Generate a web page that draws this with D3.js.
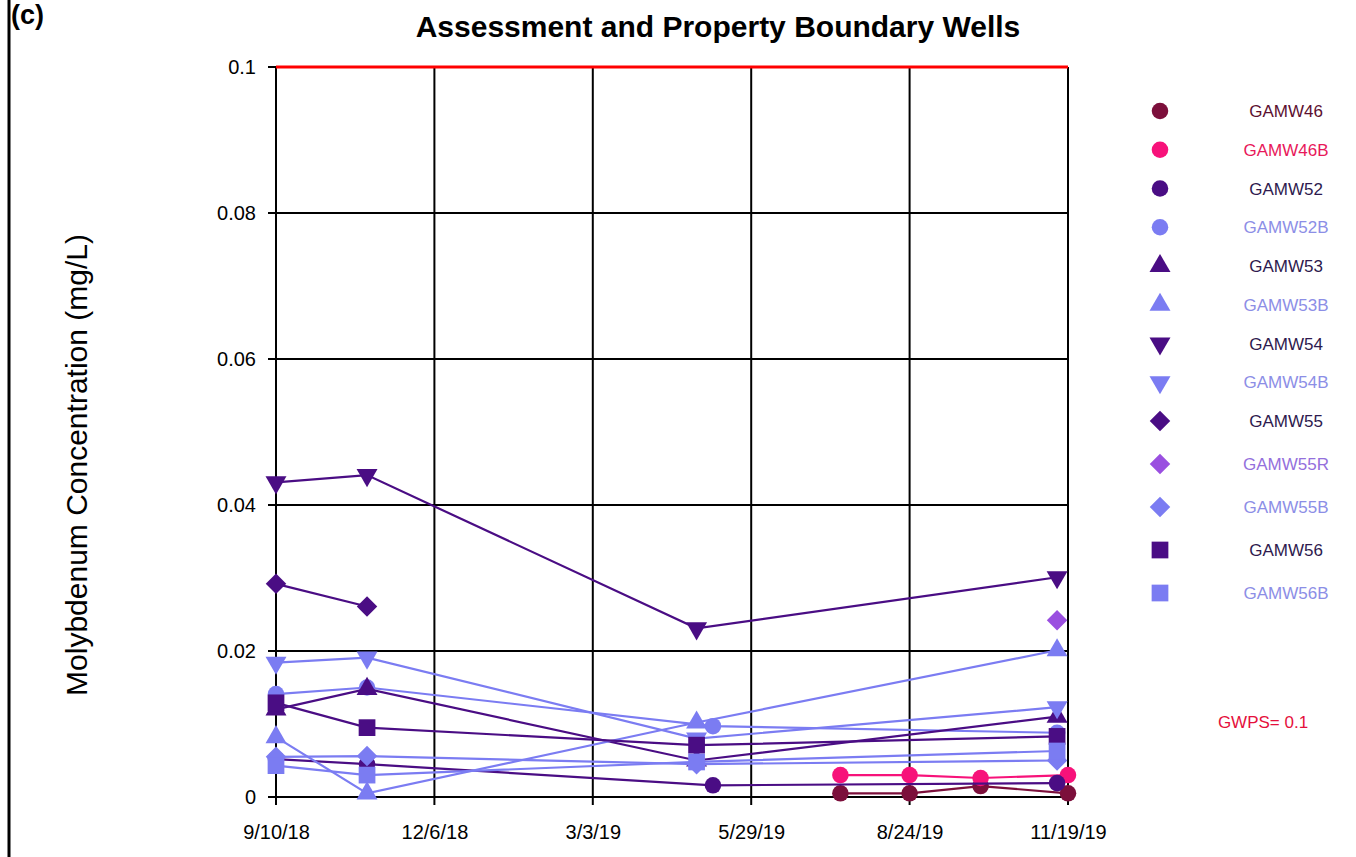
<!DOCTYPE html>
<html>
<head>
<meta charset="utf-8">
<script src="https://cdn.jsdelivr.net/npm/d3@7"></script>
<style>
  html, body { margin: 0; padding: 0; background: #fff; }
  svg { display: block; font-family: "Liberation Sans", Arial, sans-serif; }
</style>
</head>
<body>
<svg id="chart" width="1356" height="857"></svg>
<script>
// Sampling results, molybdenum (mg/L), per monitoring well
const wellNames = ["GAMW46", "GAMW46B", "GAMW52", "GAMW52B", "GAMW53", "GAMW53B",
  "GAMW54", "GAMW54B", "GAMW55", "GAMW55R", "GAMW55B", "GAMW56", "GAMW56B"];

const gamw46   = [["7/17/19", 0.0005], ["8/24/19", 0.0005], ["10/2/19", 0.0015], ["11/19/19", 0.0005]];
const gamw46b  = [["7/17/19", 0.003], ["8/24/19", 0.003], ["10/2/19", 0.0026], ["11/19/19", 0.003]];
const gamw52   = [["9/10/18", 0.0052], ["10/30/18", 0.0045], ["5/8/19", 0.0016], ["11/13/19", 0.0019]];
const gamw52b  = [["9/10/18", 0.0141], ["10/30/18", 0.015], ["5/8/19", 0.0097], ["11/13/19", 0.0088]];
const gamw53   = [["9/10/18", 0.012], ["10/30/18", 0.0148], ["4/29/19", 0.005], ["11/13/19", 0.011]];
const gamw53b  = [["9/10/18", 0.0082], ["10/30/18", 0.0005], ["4/29/19", 0.0102], ["11/13/19", 0.0201]];
const gamw54   = [["9/10/18", 0.0431], ["10/30/18", 0.0441], ["4/29/19", 0.0231], ["11/13/19", 0.0301]];
const gamw54b  = [["9/10/18", 0.0184], ["10/30/18", 0.0191], ["4/29/19", 0.008], ["11/13/19", 0.0123]];
const gamw55   = [["9/10/18", 0.0292], ["10/30/18", 0.0261]];
const gamw55r  = [["11/13/19", 0.0242]];
const gamw55b  = [["9/10/18", 0.0055], ["10/30/18", 0.0056], ["4/29/19", 0.0045], ["11/13/19", 0.005]];
const gamw56   = [["9/10/18", 0.0129], ["10/30/18", 0.0095], ["4/29/19", 0.0071], ["11/13/19", 0.0083]];
const gamw56b  = [["9/10/18", 0.0043], ["10/30/18", 0.003], ["4/29/19", 0.0048], ["11/13/19", 0.0063]];

const wellValues = [gamw46, gamw46b, gamw52, gamw52b, gamw53, gamw53b,
  gamw54, gamw54b, gamw55, gamw55r, gamw55b, gamw56, gamw56b];

const xTickLabels = ["9/10/18", "12/6/18", "3/3/19", "5/29/19", "8/24/19", "11/19/19"];
const yTickValues = [0, 0.02, 0.04, 0.06, 0.08, 0.1];
const yTickLabels = ["0", "0.02", "0.04", "0.06", "0.08", "0.1"];
const gwps = 0.1;

// Styling per well
const dark = "#4a0d84", light = "#7b7cf2";
const markerColors = ["#7c0f3b", "#f7127a", dark, light, dark, light, dark, light, dark, "#9a4fe0", light, dark, light];
const labelColors  = ["#5c1030", "#e8185a", "#2e1a4e", "#8c8ee6", "#2e1a4e", "#8c8ee6", "#2e1a4e", "#8c8ee6", "#2e1a4e", "#9470dc", "#8c8ee6", "#2e1a4e", "#8c8ee6"];
const shapes = ["circle", "circle", "circle", "circle", "up", "up", "down", "down", "diamond", "diamond", "diamond", "square", "square"];

const parse = d3.timeParse("%m/%d/%y");
const fmt = d3.timeFormat("%-m/%-d/%y");

const svg = d3.select("#chart");
const plot = { left: 276, right: 1068, top: 67, bottom: 797 };

const x = d3.scaleTime()
  .domain([parse(xTickLabels[0]), parse(xTickLabels[xTickLabels.length - 1])])
  .range([plot.left, plot.right]);
const y = d3.scaleLinear().domain([0, 0.1]).range([plot.bottom, plot.top]);

// Left page rule and panel tag
svg.append("line").attr("x1", 9).attr("x2", 9).attr("y1", 0).attr("y2", 857)
  .attr("stroke", "#000").attr("stroke-width", 3);
svg.append("text").attr("x", 11).attr("y", 24).attr("font-size", 27).attr("font-weight", "bold").text("(c)");

// Title
svg.append("text").attr("x", 718).attr("y", 37).attr("text-anchor", "middle")
  .attr("font-size", 30).attr("font-weight", "bold").text("Assessment and Property Boundary Wells");

// Y axis label
svg.append("text").attr("transform", "translate(87,465) rotate(-90)").attr("text-anchor", "middle")
  .attr("font-size", 30).text("Molybdenum Concentration (mg/L)");

// Grid lines
const xTicks = xTickLabels.map(parse);
svg.append("g").selectAll("line").data(xTicks).join("line")
  .attr("x1", d => x(d)).attr("x2", d => x(d))
  .attr("y1", plot.top).attr("y2", plot.bottom + 8)
  .attr("stroke", "#000").attr("stroke-width", 2);
svg.append("g").selectAll("line").data(yTickValues).join("line")
  .attr("x1", plot.left - 8).attr("x2", plot.right)
  .attr("y1", d => y(d)).attr("y2", d => y(d))
  .attr("stroke", "#000").attr("stroke-width", 2);

// Tick labels through d3 axes (axis lines replaced by the grid above)
const xAxis = svg.append("g").attr("transform", `translate(0,${plot.bottom})`)
  .call(d3.axisBottom(x).tickValues(xTicks).tickFormat(fmt).tickSize(0).tickPadding(28));
const yAxis = svg.append("g").attr("transform", `translate(${plot.left},0)`)
  .call(d3.axisLeft(y).tickValues(yTickValues).tickFormat((d, i) => yTickLabels[i]).tickSize(0).tickPadding(20));
[xAxis, yAxis].forEach(a => {
  a.select(".domain").remove();
  a.selectAll("text").attr("font-size", 20).attr("fill", "#000")
    .attr("font-family", "'Liberation Sans', Arial, sans-serif");
});

// GWPS line
svg.append("line").attr("x1", plot.left).attr("x2", plot.right)
  .attr("y1", y(gwps)).attr("y2", y(gwps)).attr("stroke", "#ff0000").attr("stroke-width", 3);

// Marker paths
function symbolPath(shape) {
  if (shape === "circle") return d3.symbol(d3.symbolCircle, 215)();
  if (shape === "up") return d3.symbol(d3.symbolTriangle, 190)();
  if (shape === "down") return d3.symbol(d3.symbolTriangle, 190)();
  if (shape === "diamond") return d3.symbol(d3.symbolSquare, 210)();
  return d3.symbol(d3.symbolSquare, 280)();
}
function symbolRotate(shape) {
  if (shape === "down") return 180;
  if (shape === "diamond") return 45;
  return 0;
}

const line = d3.line().x(d => x(parse(d[0]))).y(d => y(d[1]));

const seriesG = svg.append("g");
wellValues.forEach((vals, i) => {
  const g = seriesG.append("g");
  g.append("path").datum(vals).attr("d", line).attr("fill", "none")
    .attr("stroke", markerColors[i]).attr("stroke-width", 2.2);
  g.selectAll("path.m").data(vals).join("path").attr("class", "m")
    .attr("d", symbolPath(shapes[i]))
    .attr("transform", d => `translate(${x(parse(d[0]))},${y(d[1])}) rotate(${symbolRotate(shapes[i])})`)
    .attr("fill", markerColors[i]);
});

// Legend: rows a little wider apart for the last group of wells
const ly = d3.scaleLinear().domain([0, 8, 12]).range([111, 421, 593]);
const legend = svg.append("g");
wellNames.forEach((name, i) => {
  legend.append("path").attr("d", symbolPath(shapes[i]))
    .attr("transform", `translate(1160,${ly(i)}) rotate(${symbolRotate(shapes[i])})`)
    .attr("fill", markerColors[i]);
  legend.append("text").attr("x", 1286).attr("y", ly(i) + 6).attr("text-anchor", "middle")
    .attr("font-size", 17).attr("fill", labelColors[i]).text(name);
});

svg.append("text").attr("x", 1263).attr("y", 728).attr("text-anchor", "middle")
  .attr("font-size", 17).attr("fill", "#e5103c").text("GWPS= " + gwps);
</script>
</body>
</html>
